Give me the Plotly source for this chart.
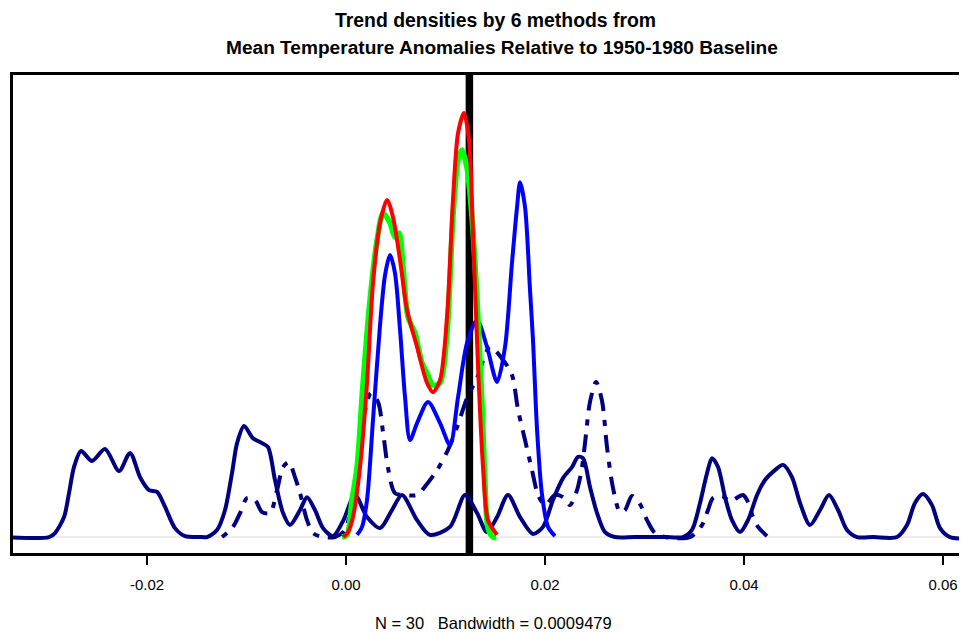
import plotly.graph_objects as go

# ---- data ----
tick_vals = [-0.02, 0.00, 0.02, 0.04, 0.06]
tick_text = ["-0.02", "0.00", "0.02", "0.04", "0.06"]
vline_x = 0.0124

navy_solid_x = [-0.0345, -0.02985, -0.02925, -0.02834, -0.02784, -0.02734, -0.02663, -0.02553, -0.02422,
                -0.02281, -0.02171, -0.02070, -0.01980, -0.01899, -0.01819, -0.01719, -0.01618, -0.01447,
                -0.01397, -0.01296, -0.01216, -0.01146, -0.01095, -0.01025, -0.00935, -0.00844, -0.00784,
                -0.00714, -0.00633, -0.00563, -0.00462, -0.00392, -0.00312, -0.00231, -0.00131, -0.00030,
                0.00090, 0.00211, 0.00342, 0.00462, 0.00563, 0.00714, 0.00844, 0.01045, 0.01196, 0.01317,
                0.01417, 0.01518, 0.01628, 0.01749, 0.01879, 0.01980, 0.02080, 0.02181, 0.02271, 0.02332,
                0.02382, 0.02452, 0.02523, 0.02603, 0.02703, 0.02900, 0.03200, 0.03387, 0.03477, 0.03558,
                0.03628, 0.03678, 0.03739, 0.03809, 0.03879, 0.03960, 0.04040, 0.04131, 0.04211, 0.04311,
                0.04392, 0.04482, 0.04563, 0.04663, 0.04764, 0.04854, 0.04945, 0.05035, 0.05136, 0.05300,
                0.05538, 0.05638, 0.05718, 0.05799, 0.05889, 0.05970, 0.06070, 0.0660]
navy_solid_y = [0, 0, 1.3, 6.5, 14.3, 22.8, 28.0, 24.8, 28.7,
                21.5, 27.4, 19.5, 15.3, 14.7, 9.8, 2.9, 0.3, 0,
                0, 2.3, 8.8, 20.8, 30.6, 36.2, 32.2, 30.6, 29.3,
                18.6, 7.8, 3.9, 8.8, 13.0, 8.8, 2.9, 0.3, 5.2,
                13.7, 6.5, 2.9, 8.8, 13.7, 5.5, 0.7, 3.3, 13.7, 7.8,
                1.6, 6.5, 13.7, 6.5, 1.0, 3.3, 12.1, 19.2, 22.8, 26.1,
                25.7, 16.3, 7.8, 1.6, 0, 0, 0, 0, 2.3, 11.1,
                20.8, 25.7, 22.8, 13.0, 5.5, 1.6, 5.5, 13.7, 18.6, 21.8,
                23.5, 19.5, 11.1, 3.9, 8.8, 13.7, 8.8, 2.3, 0, 0,
                0, 3.9, 11.1, 14.0, 10.4, 2.9, 0, 0]

navy_dotdash_x = [-0.01246, -0.01136, -0.01065, -0.00995, -0.00915, -0.00844, -0.00764, -0.00693, -0.00633,
                  -0.00573, -0.00513, -0.00462, -0.00392, -0.00332, -0.00231, -0.00111, -0.00010, 0.00090,
                  0.00171, 0.00251, 0.00322, 0.00372, 0.00422, 0.00492, 0.00593, 0.00714, 0.00814, 0.00915,
                  0.01015, 0.01116, 0.01216, 0.01317, 0.01447, 0.01578, 0.01668, 0.01729, 0.01799, 0.01869,
                  0.01930, 0.02000, 0.02100, 0.02181, 0.02251, 0.02322, 0.02372, 0.02402, 0.02452, 0.02513,
                  0.02573, 0.02623, 0.02683, 0.02754, 0.02804, 0.02874, 0.02955, 0.03025, 0.03105, 0.03206,
                  0.03457, 0.03578, 0.03638, 0.03688, 0.03779, 0.03859, 0.03990, 0.04040, 0.04090, 0.04141,
                  0.04231]
navy_dotdash_y = [0, 3.3, 7.8, 12.7, 12.1, 8.1, 7.8, 15.3, 22.8,
                  24.4, 19.5, 14.3, 5.5, 1.3, 0, 0, 2.3, 18.6,
                  38.1, 46.9, 44.0, 34.2, 22.5, 14.3, 13.7, 13.7, 17.3, 21.8,
                  27.7, 35.8, 45.3, 51.8, 61.9, 57.7, 52.8, 41.4, 31.6, 21.8,
                  13.7, 10.4, 13.7, 13.0, 10.4, 15.3, 22.8, 30.6, 44.0, 50.5,
                  44.3, 29.3, 16.0, 8.1, 8.8, 13.4, 10.7, 5.5, 1.3, 0,
                  0, 3.9, 8.8, 12.7, 13.4, 11.7, 13.7, 11.4, 6.5, 3.3,
                  0.3]

blue_x = [0.00111, 0.00161, 0.00211, 0.00271, 0.00342, 0.00392, 0.00442, 0.00492, 0.00543, 0.00593,
          0.00643, 0.00714, 0.00824, 0.00945, 0.01045, 0.01126, 0.01216, 0.01317, 0.01417, 0.01518,
          0.01598, 0.01668, 0.01719, 0.01749, 0.01799, 0.01849, 0.01879, 0.01920, 0.01970, 0.02030,
          0.02100]
blue_y = [0.7, 3.3, 12.1, 38.1, 69.1, 85.3, 91.9, 86.0, 67.4, 45.6,
          31.6, 37.1, 44.0, 37.1, 30.0, 45.6, 63.2, 70.7, 61.9, 50.5,
          61.9, 89.3, 107.5, 115.6, 107.5, 80.5, 64.2, 34.9, 13.7, 3.3,
          0.3]

green_x = [-0.00040, 0.00010, 0.00060, 0.00111, 0.00171, 0.00241, 0.00312, 0.00372, 0.00442, 0.00492,
           0.00533, 0.00573, 0.00623, 0.00693, 0.00764, 0.00814, 0.00874, 0.00945, 0.01015, 0.01075,
           0.01126, 0.01166, 0.01216, 0.01266, 0.01317, 0.01367, 0.01397, 0.01427, 0.01477, 0.01510]
green_y = [0, 0.7, 12.1, 22.8, 50.2, 77.2, 96.7, 105.5, 102.3, 97.7,
           99.0, 87.9, 71.7, 66.4, 56.7, 53.4, 49.5, 50.2, 66.4, 104.2,
           122.8, 126.1, 120.2, 104.2, 77.2, 43.0, 17.6, 2.9, 0, 0]

red_x = [-0.00030, 0.00020, 0.00070, 0.00141, 0.00211, 0.00271, 0.00342, 0.00412, 0.00472, 0.00543,
         0.00613, 0.00714, 0.00814, 0.00874, 0.00945, 0.01015, 0.01075, 0.01126, 0.01186, 0.01236,
         0.01276, 0.01327, 0.01377, 0.01427, 0.01518]
red_y = [0, 1.6, 6.5, 22.8, 50.2, 82.7, 102.3, 109.8, 104.2, 90.2,
         73.9, 61.9, 50.2, 47.2, 51.1, 71.7, 109.8, 131.6, 138.1, 129.3,
         99.0, 55.4, 22.8, 5.5, 0.7]

# ---- figure ----
FONT = "Liberation Sans, Arial, Helvetica, sans-serif"
fig = go.Figure()

def add_curve(xs, ys, color, width, dash="solid"):
    fig.add_trace(go.Scatter(
        x=xs, y=ys, mode="lines",
        line=dict(color=color, width=width, dash=dash, shape="spline", smoothing=0.8),
        hoverinfo="skip", showlegend=False, cliponaxis=True))

add_curve(navy_solid_x, navy_solid_y, "#000080", 4)
add_curve(navy_dotdash_x, navy_dotdash_y, "#000080", 4, dash="6px,9px,18px,9px")
add_curve(blue_x, blue_y, "#0000FF", 4)
add_curve(green_x, green_y, "#00FF00", 5.5)
add_curve(red_x, red_y, "#FF0000", 4)

# grey zero line and black vertical reference line
fig.add_shape(type="line", xref="paper", yref="y", x0=0, x1=1, y0=0, y1=0,
              line=dict(color="#DADADA", width=1), layer="below")
fig.add_shape(type="line", xref="x", yref="paper", x0=vline_x, x1=vline_x, y0=0, y1=1,
              line=dict(color="#000000", width=7.5), layer="below")

# titles
fig.add_annotation(text="<b>Trend densities by 6 methods from</b>", xref="paper", yref="paper",
                   x=0.506, y=1.1145, xanchor="center", yanchor="middle", showarrow=False,
                   font=dict(family=FONT, size=19.4, color="#000000"))
fig.add_annotation(text="<b>Mean Temperature Anomalies Relative to 1950-1980 Baseline</b>", xref="paper",
                   yref="paper", x=0.5125, y=1.058, xanchor="center", yanchor="middle", showarrow=False,
                   font=dict(family=FONT, size=19.1, color="#000000"))
fig.add_annotation(text="N = 30   Bandwidth = 0.0009479", xref="paper", yref="paper",
                   x=0.504, y=-0.146, xanchor="center", yanchor="middle", showarrow=False,
                   font=dict(family=FONT, size=16.5, color="#000000"))

# The page adds an 8px body margin, so the figure is 8px smaller than the window
fig.update_layout(
    width=959, height=625,
    margin=dict(l=5, r=0, t=67, b=80, pad=0),
    paper_bgcolor="#FFFFFF", plot_bgcolor="#FFFFFF",
    font=dict(family=FONT, size=15, color="#000000"),
    showlegend=False,
)
fig.update_xaxes(range=[-0.03347, 0.06241], tickvals=tick_vals, ticktext=tick_text,
                 showgrid=False, zeroline=False, showline=True, linecolor="#000000", linewidth=2.5,
                 mirror=True, ticks="outside", ticklen=9, tickwidth=2, tickcolor="#000000",
                 ticklabelstandoff=7, tickfont=dict(family=FONT, size=15, color="#000000"))
fig.update_yaxes(range=[-5.2, 150.5], showgrid=False, zeroline=False, showticklabels=False,
                 showline=True, linecolor="#000000", linewidth=2.5, mirror=False, ticks="")

fig.write_html("out.html")
